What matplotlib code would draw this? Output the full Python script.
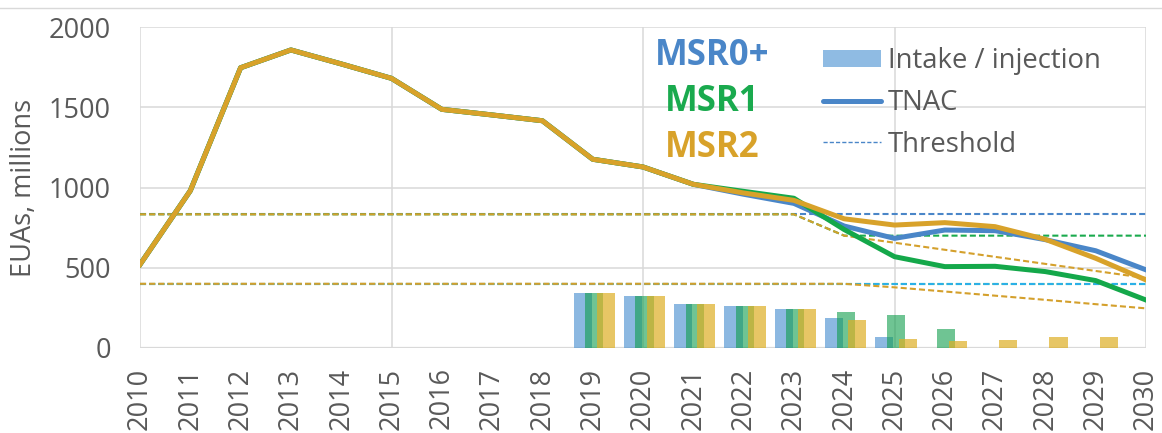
import matplotlib
matplotlib.use('Agg')
import matplotlib.pyplot as plt
from matplotlib.lines import Line2D
from matplotlib.patches import Patch
import numpy as np

plt.rcParams['font.family'] = ['Open Sans', 'DejaVu Sans']

years = list(range(2010, 2031))
bar_years = list(range(2019, 2031))

# TNAC, million EUAs
tnac_msr0 = [520, 980, 1746, 1857, 1770, 1680, 1487, 1452, 1416, 1176, 1128, 1020,
             958, 901, 760, 683, 735, 731, 675, 606, 487]
tnac_msr1 = [520, 980, 1746, 1857, 1770, 1680, 1487, 1452, 1416, 1176, 1128, 1020,
             976, 933, 738, 569, 507, 509, 476, 420, 299]
tnac_msr2 = [520, 980, 1746, 1857, 1770, 1680, 1487, 1452, 1416, 1176, 1128, 1020,
             966, 920, 805, 766, 781, 756, 677, 559, 424]

# intake / injection, 2019-2030
intake_msr0 = [345, 325, 275, 262, 242, 188, 71, 0, 0, 0, 0, 0]
intake_msr1 = [345, 325, 275, 262, 242, 227, 208, 119, 0, 0, 0, 0]
intake_msr2 = [345, 325, 275, 262, 242, 175, 58, 44, 50, 71, 71, 0]

# thresholds
upper_msr0 = [833] * 21
lower_msr0 = [400] * 21
upper_msr1 = [833] * 14 + [700] * 7
lower_msr1 = [400] * 21
upper_msr2 = [833] * 14 + [700, 656, 612, 568, 524, 480, 436]
lower_msr2 = [400] * 15 + [378, 352, 326, 300, 273, 247]

blue = '#4A86C8'
green = '#14A84A'
gold = '#D8A22A'
grey = '#595959'
gridc = '#D9D9D9'

fig = plt.figure(figsize=(11.62, 4.33), dpi=100)
ax = fig.add_axes([140 / 1162, 1 - 348 / 433, 1006 / 1162, 321 / 433])

# bars
w = 0.36
ax.bar(np.array(bar_years) - 0.2, intake_msr0, w, color='#5B9BD5', alpha=0.7, lw=0, zorder=2)
ax.bar(np.array(bar_years) + 0.03, intake_msr1, w, color='#0F9D4B', alpha=0.6, lw=0, zorder=2)
ax.bar(np.array(bar_years) + 0.26, intake_msr2, w, color='#DEAF24', alpha=0.7, lw=0, zorder=2)

# thresholds
dash = (2.9, 1.5)
ax.plot(years, lower_msr1, color='#1AAA4E', lw=1.5, dashes=dash, zorder=3)
ax.plot(years, upper_msr0, color=blue, lw=1.5, dashes=dash, zorder=3)
ax.plot(years, lower_msr0, color='#2BB0E8', lw=1.5, dashes=dash, zorder=3)
ax.plot(years, upper_msr1, color='#1AAA4E', lw=1.5, dashes=dash, zorder=3)
ax.plot(years, lower_msr2, color='#D4A02C', lw=1.5, dashes=dash, zorder=3)
ax.plot(years, upper_msr2, color='#D4A02C', lw=1.5, dashes=dash, zorder=3)

# TNAC
ax.plot(years, tnac_msr0, color=blue, lw=3.6, zorder=4, solid_joinstyle='round')
ax.plot(years, tnac_msr1, color=green, lw=3.6, zorder=4, solid_joinstyle='round')
ax.plot(years, tnac_msr2, color=gold, lw=3.6, zorder=4, solid_joinstyle='round')

ax.set_xlim(2010, 2030)
ax.set_ylim(0, 2000)
ax.set_xticks(years)
ax.set_xticklabels([str(y) for y in years], rotation=90)
ax.set_yticks([0, 500, 1000, 1500, 2000])
ax.tick_params(axis='both', length=0, labelsize=19.5, colors=grey)
ax.tick_params(axis='y', pad=21)
ax.tick_params(axis='x', pad=14)
ax.set_ylabel('EUAs, millions', fontsize=19.5, color=grey, labelpad=8)

for x in [2010, 2015, 2020, 2025, 2030]:
    ax.axvline(x, color=gridc, lw=1.1, zorder=0)
for y in [500, 1000, 1500, 2000]:
    ax.axhline(y, color=gridc, lw=1.1, zorder=0)
for s in ax.spines.values():
    s.set_visible(False)
ax.axhline(0, color=gridc, lw=1.6, zorder=1)

# scenario labels
fig.text(712 / 1162, 1 - 65 / 433, 'MSR0+', color=blue, fontsize=25, fontweight='bold',
         ha='center', va='baseline')
fig.text(712 / 1162, 1 - 111 / 433, 'MSR1', color='#1AAA4E', fontsize=25, fontweight='bold',
         ha='center', va='baseline')
fig.text(712 / 1162, 1 - 157 / 433, 'MSR2', color=gold, fontsize=25, fontweight='bold',
         ha='center', va='baseline')

handles = [Patch(facecolor='#8FBBE3', edgecolor='none'),
           Line2D([], [], color=blue, lw=3.6, solid_capstyle='round'),
           Line2D([], [], color=blue, lw=1.0, dashes=(3, 1.5))]
leg = ax.legend(handles, ['Intake / injection', 'TNAC', 'Threshold'],
                loc='upper left', bbox_to_anchor=(823 / 1162, 1 - 47 / 433),
                bbox_transform=fig.transFigure, frameon=False, fontsize=19.8,
                handlelength=2.1, handleheight=0.6, handletextpad=0.25,
                labelspacing=0.5, borderpad=0, borderaxespad=0)
for t in leg.get_texts():
    t.set_color(grey)

fig.add_artist(Line2D([0, 1], [1 - 8 / 433, 1 - 8 / 433], color=gridc, lw=1.0,
                      transform=fig.transFigure))

fig.savefig('out.png', dpi=100)
